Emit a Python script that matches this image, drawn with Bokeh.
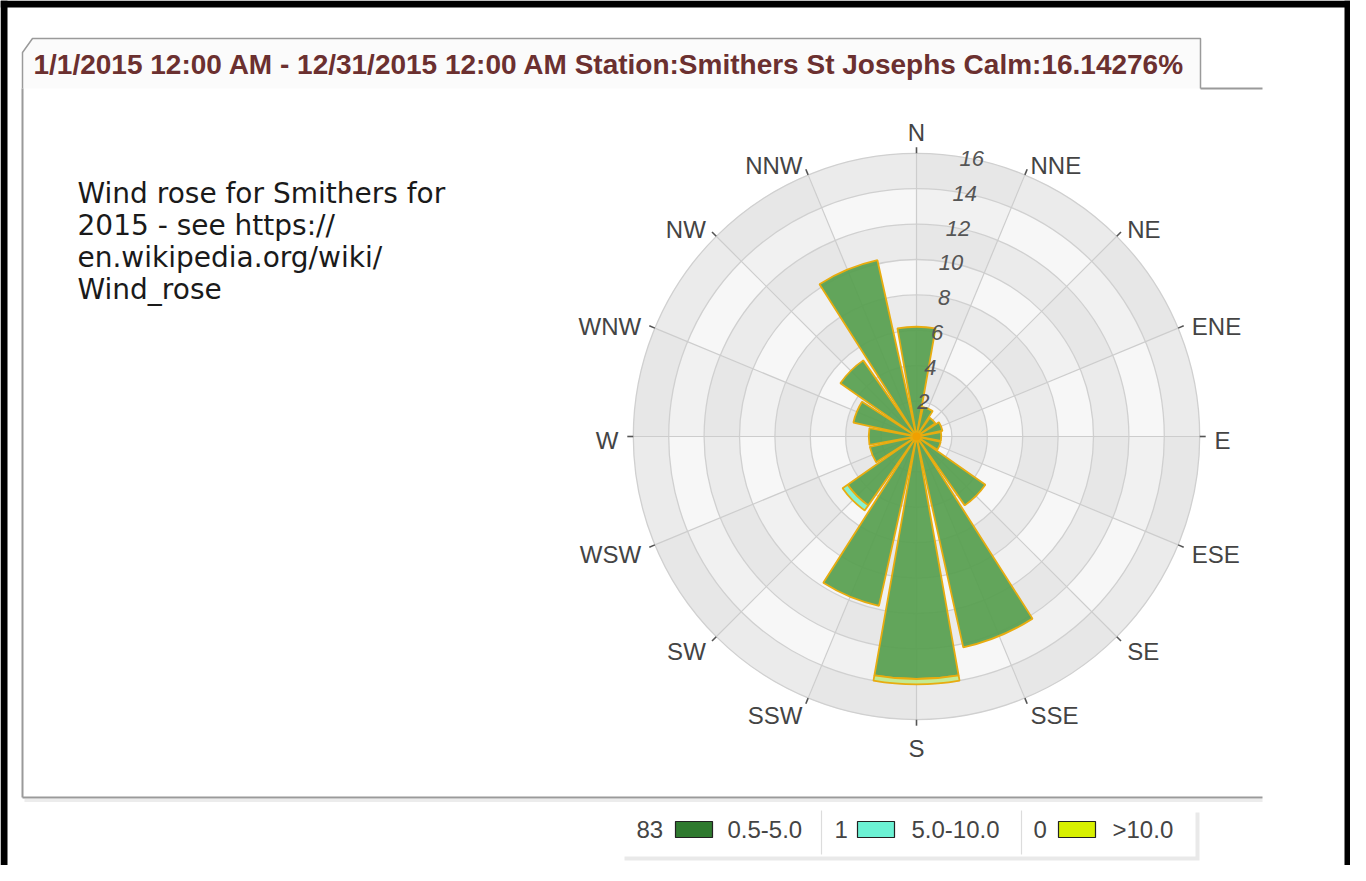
import numpy as np
from bokeh.plotting import figure
from bokeh.models import Range1d
from bokeh.embed import file_html
from bokeh.resources import INLINE
from bokeh.core.properties import value

# ---------------- data ----------------
directions = ["N", "NNE", "NE", "ENE", "E", "ESE", "SE", "SSE",
              "S", "SSW", "SW", "WSW", "W", "WNW", "NW", "NNW"]
speed_classes = ["0.5-5.0", "5.0-10.0", ">10.0"]
legend_counts = ["83", "1", "0"]
freq_05_5 = [6.2, 1.7, 1.3, 1.5, 1.4, 1.4, 4.75, 12.2, 13.7, 9.8, 4.75, 2.7, 2.7, 3.65, 5.25, 10.2]
freq_5_10 = [0, 0, 0, 0, 0, 0, 0, 0, 0, 0, 0.35, 0, 0, 0, 0, 0]
freq_gt10 = [0, 0, 0, 0, 0, 0, 0, 0, 0.3, 0, 0, 0, 0, 0, 0, 0]
ring_ticks = [2, 4, 6, 8, 10, 12, 14, 16]
title_text = "1/1/2015 12:00 AM - 12/31/2015 12:00 AM Station:Smithers St Josephs Calm:16.14276%"
note_lines = ["Wind rose for Smithers for", "2015 - see https://",
              "en.wikipedia.org/wiki/", "Wind_rose"]

bar_colors = ["#579f50", "#7ff0cc", "#bfe98a"]
swatch_colors = ["#2f7a2f", "#6cf2d4", "#d8f000"]

# ---------------- geometry helpers (reference pixels -> data units) ----------------
W, H = 1350, 865
PX = 17.7            # pixels per percent
CX, CY = 916.0, 436.0
RMAX = max(ring_ticks)


def X(px):
    return (px - CX) / PX


def Y(py):
    return (CY - py) / PX


p = figure(width=W, height=H,
           x_range=Range1d(X(0), X(W)), y_range=Range1d(Y(H), Y(0)),
           x_axis_type=None, y_axis_type=None, output_backend="svg",
           toolbar_location=None, min_border=0, outline_line_color=None,
           background_fill_color="white", border_fill_color="white")
p.grid.visible = False

# ---------------- frame / panel ----------------
# black screenshot border
p.quad(left=[X(0), X(0), X(1344)], right=[X(1350), X(7), X(1350)],
       top=[Y(0), Y(0), Y(0)], bottom=[Y(7), Y(865), Y(865)],
       fill_color="black", line_color=None)

# tab
tab_x = [X(22), X(22), X(32), X(1200), X(1200)]
tab_y = [Y(88), Y(52), Y(38), Y(38), Y(88)]
p.patch(tab_x, tab_y, fill_color="#fbfbfb", line_color=None)
p.line(tab_x, tab_y, line_color="#9a9a9a", line_width=1.5)
# panel border
p.line([X(1200), X(1262)], [Y(88), Y(88)], line_color="#9a9a9a", line_width=2)
p.line([X(22), X(22)], [Y(88), Y(797)], line_color="#9a9a9a", line_width=2)
p.line([X(24), X(1262)], [Y(800), Y(800)], line_color="#ececec", line_width=3)
p.line([X(22), X(1262)], [Y(797), Y(797)], line_color="#9a9a9a", line_width=2)

p.text(x=[X(33)], y=[Y(64)], text=[title_text], text_font=value("Liberation Sans"),
       text_font_style="bold", text_font_size="28px", text_color="#6b3030",
       text_align="left", text_baseline="middle")

# note text
p.text(x=[X(77)] * len(note_lines), y=[Y(193 + 32 * i) for i in range(len(note_lines))],
       text=note_lines, text_font=value("DejaVu Sans"), text_font_size="28px",
       text_color="#1a1a1a", text_align="left", text_baseline="alphabetic")

# ---------------- rose background ----------------
n = len(directions)
step = 360.0 / n
bin_, bout, bs, be, bc = [], [], [], [], []
for k in range(len(ring_ticks)):
    inner = 0 if k == 0 else ring_ticks[k - 1]
    outer = ring_ticks[k]
    dark = (k % 2 == 1)
    for j in range(n):
        a1 = np.deg2rad(j * step)
        a2 = np.deg2rad((j + 1) * step)
        bin_.append(inner)
        bout.append(outer)
        bs.append(np.pi / 2 - a2)
        be.append(np.pi / 2 - a1)
        if dark:
            bc.append("#e7e7e7" if j % 2 == 0 else "#ebebeb")
        else:
            bc.append("#f1f1f1" if j % 2 == 0 else "#f7f7f7")
p.annular_wedge(x=0, y=0, inner_radius=bin_, outer_radius=bout, start_angle=bs,
                end_angle=be, fill_color=bc, line_color=None)

theta = np.deg2rad(np.arange(n) * step)
# grid
p.circle(x=[0] * len(ring_ticks), y=[0] * len(ring_ticks), radius=ring_ticks,
         fill_color=None, line_color="#d0d0d0", line_width=1.3)
p.segment(x0=[0] * n, y0=[0] * n, x1=list(RMAX * np.sin(theta)), y1=list(RMAX * np.cos(theta)),
          line_color="#cdcdcd", line_width=1.2)

# ---------------- bars ----------------
half = np.deg2rad(10.0)
start = np.pi / 2 - theta - half
end = np.pi / 2 - theta + half
base = np.zeros(n)
for vals, color in zip([freq_05_5, freq_5_10, freq_gt10], bar_colors):
    v = np.array(vals, dtype=float)
    m = v > 0
    p.annular_wedge(x=0, y=0, inner_radius=list(base[m]), outer_radius=list((base + v)[m]),
                    start_angle=list(start[m]), end_angle=list(end[m]),
                    fill_color=color, fill_alpha=0.93, line_color="#e8ac10", line_width=1.8)
    base = base + v
p.scatter(x=[0], y=[0], size=8, fill_color="#f0a000", line_color=None)

# ticks
tl = 6 / PX
p.segment(x0=list(RMAX * np.sin(theta)), y0=list(RMAX * np.cos(theta)),
          x1=list((RMAX + tl) * np.sin(theta)), y1=list((RMAX + tl) * np.cos(theta)),
          line_color="#555555", line_width=1.6)

# ring labels along the half-sector line
ang = np.deg2rad(step / 2)
p.text(x=[r * np.sin(ang) for r in ring_ticks], y=[r * np.cos(ang) for r in ring_ticks],
       text=[str(r) for r in ring_ticks], text_font=value("Liberation Sans"),
       text_font_style="italic", text_font_size="22px", text_color="#555555",
       text_align="center", text_baseline="middle")

# direction labels
groups = {"left": ([], [], []), "right": ([], [], []), "center": ([], [], [])}
for j, d in enumerate(directions):
    s, c = np.sin(theta[j]), np.cos(theta[j])
    rp = 298.0
    if abs(s) < 0.01:
        rp += 10
        al = "center"
    elif s > 0:
        al = "left"
    else:
        al = "right"
    gx, gy, gt = groups[al]
    gx.append(rp / PX * s)
    gy.append(rp / PX * c - 4 / PX)
    gt.append(d)
for al, (gx, gy, gt) in groups.items():
    p.text(x=gx, y=gy, text=gt, text_font=value("Liberation Sans"), text_font_size="24px",
           text_color="#444444", text_align=al, text_baseline="middle")

# ---------------- legend ----------------
p.quad(left=[X(624)], right=[X(1199)], top=[Y(812)], bottom=[Y(860)],
       fill_color="#e9e9e9", line_color=None)
p.quad(left=[X(620)], right=[X(1195)], top=[Y(808)], bottom=[Y(856)],
       fill_color="white", line_color=None)
p.segment(x0=[X(821), X(1021)], y0=[Y(810), Y(810)], x1=[X(821), X(1021)], y1=[Y(854), Y(854)],
          line_color="#dcdcdc", line_width=1.2)
count_x = [636, 834, 1033]
sw_x = [675, 857, 1058]
lab_x = [727, 911, 1112]
p.text(x=[X(v) for v in count_x], y=[Y(829)] * 3, text=legend_counts,
       text_font=value("Liberation Sans"), text_font_size="24px", text_color="#444444",
       text_align="left", text_baseline="middle")
p.quad(left=[X(v) for v in sw_x], right=[X(v + 37) for v in sw_x], top=[Y(821)] * 3,
       bottom=[Y(837)] * 3, fill_color=swatch_colors, line_color="#222222", line_width=1.2)
p.text(x=[X(v) for v in lab_x], y=[Y(829)] * 3, text=speed_classes,
       text_font=value("Liberation Sans"), text_font_size="24px", text_color="#444444",
       text_align="left", text_baseline="middle")

open("out.html", "w").write(file_html(p, INLINE))
